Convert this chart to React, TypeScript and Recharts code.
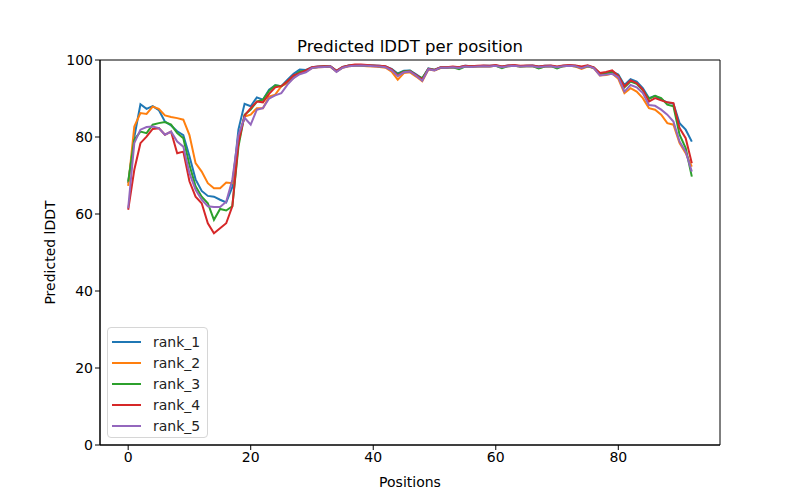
import React from "react";
import { LineChart, Line, XAxis, YAxis, Label, ReferenceArea } from "recharts";

// per-residue predicted lDDT for the five ranked models
const rank1 = [
  68, 80, 88.5, 87.3, 88, 87, 84, 83, 81.5, 80.5, 75, 69, 66, 64.7, 64.5, 63.7, 63, 67, 82, 88.6,
  88, 90.3, 89.7, 92.3, 93.4, 93.2, 94.9, 96.4, 97.5, 97.4, 98.1, 98.3, 98.4, 98.4, 97.2, 98.2, 98.6, 98.7, 98.7, 98.6,
  98.6, 98.5, 98.3, 97.7, 96.5, 97.2, 97.3, 96.3, 95.2, 97.8, 97.5, 98.1, 98.1, 98.2, 98.1, 98.5, 98.4, 98.4, 98.5, 98.5,
  98.6, 98.3, 98.6, 98.6, 98.4, 98.5, 98.6, 98.3, 98.5, 98.5, 98.2, 98.5, 98.6, 98.5, 98.1, 98.5, 98.0, 96.4, 96.7, 97.0,
  96.2, 93.5, 95, 94.4, 92.7, 90.1, 90.7, 89.7, 89, 88.6, 83.6, 81.9, 78.8,
];
const rank2 = [
  67.3, 82.7, 86.2, 86, 87.9, 87.3, 85.6, 85.2, 84.9, 84.5, 80.5, 73.2, 71, 68, 66.7, 66.7, 68.2, 68, 80, 85.3,
  85.8, 87.5, 87.5, 90.5, 91, 93.2, 94, 95.3, 96.6, 97.0, 97.9, 98.1, 98.2, 98.2, 97.0, 98.0, 98.4, 98.5, 98.5, 98.4,
  98.3, 98.2, 98.0, 97.0, 94.9, 96.6, 96.8, 95.7, 94.5, 97.5, 97.3, 97.9, 98.0, 98.1, 98.0, 98.3, 98.2, 98.3, 98.4, 98.3,
  98.5, 98.2, 98.4, 98.5, 98.3, 98.4, 98.4, 97.9, 98.3, 98.4, 98.1, 98.4, 98.5, 98.3, 97.7, 98.3, 97.9, 96.0, 96.1, 96.5,
  95.1, 91.4, 92.7, 91.8, 90.1, 87.5, 87.1, 85.8, 83.6, 83.2, 78.4, 75.8, 72.3,
];
const rank3 = [
  68.4, 79.3, 81.4, 81, 83.2, 83.6, 83.9, 83.2, 81, 79.7, 72.7, 67.2, 64.5, 62.8, 58.5, 61.3, 60.9, 62, 77.5, 85.8,
  87.1, 89.2, 89.7, 92, 93.4, 93.2, 94.5, 95.7, 97, 97.2, 98.0, 98.2, 98.3, 98.3, 97.1, 98.1, 98.5, 98.6, 98.6, 98.5,
  98.5, 98.4, 98.2, 97.5, 96.3, 97.1, 97.2, 96.0, 95.3, 97.7, 97.4, 98.0, 98.0, 98.1, 97.6, 98.3, 98.3, 98.4, 98.4, 98.4,
  98.5, 97.9, 98.4, 98.5, 98.3, 98.4, 98.4, 97.8, 98.3, 98.4, 97.8, 98.4, 98.5, 98.4, 98.0, 98.4, 98.0, 96.5, 96.6, 96.8,
  96.0, 92.9, 94.4, 93.8, 92.1, 89.9, 90.7, 90.1, 88.4, 88, 80.6, 77.1, 69.7,
];
const rank4 = [
  61.1, 71.5, 78.4, 80.1, 82.1, 82.3, 80.6, 81.4, 75.8, 76.2, 68.5, 64.5, 62.8, 57.6, 55, 56.3, 57.6, 62, 78.5, 85.6,
  87.5, 89.2, 89, 91.2, 92.9, 93.2, 94.5, 96, 96.6, 97.3, 98.1, 98.3, 98.4, 98.4, 97.2, 98.2, 98.6, 98.8, 98.8, 98.7,
  98.6, 98.5, 98.4, 97.6, 96.0, 96.9, 97.1, 96.1, 94.9, 97.7, 97.4, 98.1, 98.1, 98.3, 98.1, 98.5, 98.4, 98.5, 98.6, 98.5,
  98.7, 98.3, 98.6, 98.7, 98.5, 98.6, 98.6, 98.3, 98.5, 98.6, 98.3, 98.6, 98.7, 98.6, 98.3, 98.6, 98.1, 96.6, 96.9, 97.3,
  95.9, 93.1, 94.7, 94, 92.3, 89.2, 90.1, 89.5, 89, 88.8, 82.3, 79.7, 73.2,
];
const rank5 = [
  61.5, 78.4, 81.9, 82.6, 82.7, 82.3, 80.6, 81.4, 78.8, 77.5, 70.6, 66.3, 63.7, 62, 61.8, 61.8, 63.2, 68.9, 80.5, 85,
  83.2, 87.1, 87.5, 90, 90.8, 91.4, 93.6, 95.3, 96.3, 96.8, 97.9, 98.1, 98.2, 98.3, 96.9, 98.0, 98.4, 98.5, 98.6, 98.5,
  98.4, 98.3, 98.1, 97.3, 95.8, 96.8, 97.0, 95.9, 94.6, 97.6, 97.3, 98.0, 98.0, 98.1, 97.9, 98.3, 98.2, 98.3, 98.4, 98.3,
  98.5, 98.1, 98.4, 98.5, 98.3, 98.4, 98.4, 98.1, 98.3, 98.4, 98.1, 98.4, 98.5, 98.4, 97.9, 98.4, 97.9, 96.0, 96.2, 96.4,
  95.5, 91.8, 93.5, 92.9, 91.4, 88.3, 88.1, 87.1, 85.8, 84, 78.8, 76.2, 71,
];

const seriesNames = ["rank_1", "rank_2", "rank_3", "rank_4", "rank_5"];
const seriesValues = [rank1, rank2, rank3, rank4, rank5];
const colors = ["#1f77b4", "#ff7f0e", "#2ca02c", "#d62728", "#9467bd"];
const xTicks = [0, 20, 40, 60, 80];
const yTicks = [0, 20, 40, 60, 80, 100];
const xDomain: [number, number] = [-4.6, 96.6];

const data = rank1.map((_, i) => {
  const row: Record<string, number> = { pos: i };
  seriesNames.forEach((n, s) => (row[n] = seriesValues[s][i]));
  return row;
});

const font = "DejaVu Sans, sans-serif";

function LegendBox() {
  return (
    <div
      style={{
        position: "absolute",
        left: 107,
        top: 327,
        background: "rgba(255,255,255,0.8)",
        border: "1px solid #d6d6d6",
        borderRadius: 4,
        width: 101,
        height: 111,
        boxSizing: "border-box",
        paddingTop: 3,
        fontFamily: font,
        fontSize: 14,
      }}
    >
      {seriesNames.map((n, i) => (
        <div key={n} style={{ display: "flex", alignItems: "center", height: 21 }}>
          <div style={{ width: 29, height: 2, background: colors[i], marginLeft: 4, marginRight: 12 }} />
          <span style={{ color: "#222" }}>{n}</span>
        </div>
      ))}
    </div>
  );
}

export default function App() {
  return (
    <div style={{ position: "absolute", left: 0, top: 0, width: 800, height: 500, background: "#fff" }}>
      <LineChart width={800} height={500} data={data} margin={{ top: 60, right: 80, bottom: 0, left: 0 }}>
        <XAxis
          dataKey="pos"
          type="number"
          domain={xDomain}
          ticks={xTicks}
          allowDataOverflow
          height={55}
          tickSize={5}
          stroke="#000"
          tick={{ fill: "#000", fontSize: 14, fontFamily: font }}
        >
          <Label value="Positions" position="insideBottom" offset={13} style={{ fill: "#000", fontSize: 14, fontFamily: font }} />
        </XAxis>
        <YAxis
          type="number"
          domain={[0, 100]}
          ticks={yTicks}
          width={100}
          tickSize={5}
          stroke="#000"
          tick={{ fill: "#000", fontSize: 14, fontFamily: font }}
        >
          <Label
            value="Predicted lDDT"
            angle={-90}
            position="insideLeft"
            offset={50}
            style={{ fill: "#000", fontSize: 14, fontFamily: font, textAnchor: "middle" }}
          />
        </YAxis>
        {seriesNames.map((n, i) => (
          <Line
            key={n}
            dataKey={n}
            stroke={colors[i]}
            strokeWidth={2}
            dot={false}
            type="linear"
            isAnimationActive={false}
          />
        ))}
        <ReferenceArea
          x1={xDomain[0]}
          x2={xDomain[1]}
          y1={0}
          y2={100}
          fill="none"
          fillOpacity={0}
          stroke="#000"
          strokeWidth={1}
          ifOverflow="visible"
        >
          <Label value="Predicted lDDT per position" position="top" offset={8} style={{ fill: "#000", fontSize: 16.5, fontFamily: font }} />
        </ReferenceArea>
      </LineChart>
      <LegendBox />
    </div>
  );
}
